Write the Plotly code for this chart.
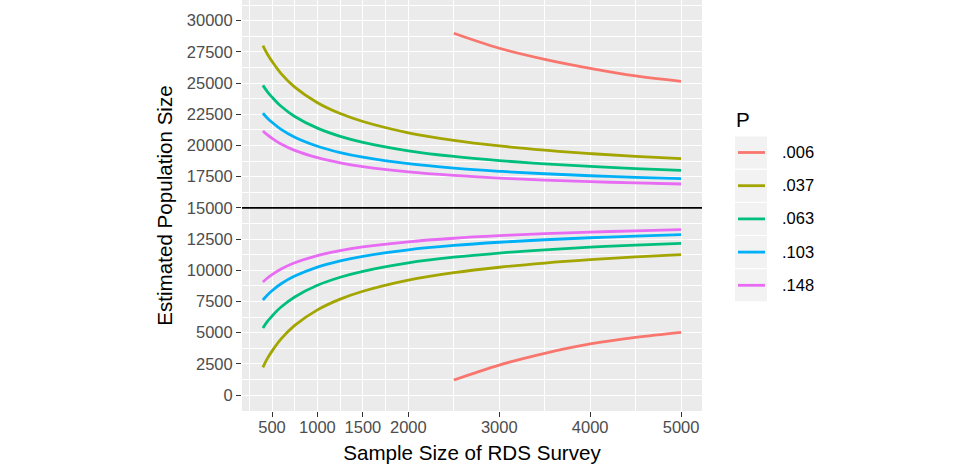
import plotly.graph_objects as go

# ---- data ----
sample_n = [400, 450, 500, 600, 750, 1000, 1250, 1500, 2000, 2500, 3000, 3500, 4000, 4500, 5000]
red_n = [2500, 3000, 3500, 4000, 4500, 5000]

p006_upper = [28990, 27790, 26900, 26180, 25570, 25140]
p006_lower = [1200, 2400, 3340, 4090, 4620, 5020]

p037_upper = [28000, 27313, 26739, 25757, 24676, 23428, 22557, 21920, 21015, 20410, 19966, 19623, 19348, 19126, 18940]
p037_lower = [2221, 2933, 3519, 4501, 5585, 6825, 7685, 8315, 9208, 9801, 10238, 10576, 10843, 11064, 11245]

p063_upper = [24815, 24302, 23875, 23138, 22325, 21388, 20732, 20252, 19571, 19117, 18784, 18523, 18318, 18148, 18010]
p063_lower = [5372, 5893, 6320, 7049, 7858, 8791, 9440, 9916, 10594, 11048, 11379, 11639, 11845, 12016, 12153]

p103_upper = [22579, 22185, 21856, 21287, 20660, 19939, 19432, 19062, 18537, 18186, 17930, 17732, 17574, 17447, 17340]
p103_lower = [7616, 8019, 8356, 8917, 9533, 10255, 10753, 11118, 11638, 11987, 12244, 12443, 12604, 12735, 12849]

p148_upper = [21162, 20843, 20576, 20115, 19606, 19020, 18609, 18308, 17881, 17597, 17389, 17228, 17100, 16997, 16911]
p148_lower = [9059, 9379, 9647, 10100, 10597, 11174, 11573, 11865, 12281, 12565, 12770, 12929, 13056, 13160, 13251]

true_size = 15000

legend_title = "P"
p_labels = [".006", ".037", ".063", ".103", ".148"]
x_ticks = [500, 1000, 1500, 2000, 3000, 4000, 5000]
x_minor = [250, 750, 1250, 1750, 2500, 3500, 4500]
y_ticks = [0, 2500, 5000, 7500, 10000, 12500, 15000, 17500, 20000, 22500, 25000, 27500, 30000]
y_minor = [1250, 3750, 6250, 8750, 11250, 13750, 16250, 18750, 21250, 23750, 26250, 28750, 31250]

colors = ["#F8766D", "#A3A500", "#00BF7D", "#00B0F6", "#E76BF3"]

series = [
    (red_n, p006_upper, p006_lower),
    (sample_n, p037_upper, p037_lower),
    (sample_n, p063_upper, p063_lower),
    (sample_n, p103_upper, p103_lower),
    (sample_n, p148_upper, p148_lower),
]

FONT = "Liberation Sans, Arial, Helvetica, sans-serif"
LINE_W = 2.8

fig = go.Figure()
for i, (xs, up, lo) in enumerate(series):
    for k, ys in enumerate((up, lo)):
        fig.add_trace(go.Scatter(
            x=xs, y=ys, mode="lines",
            line=dict(color=colors[i], width=LINE_W, shape="spline", smoothing=1.0),
            name=p_labels[i], legendgroup=p_labels[i],
            showlegend=False,
        ))

# plot-area geometry in pixels
W, H = 975, 476
L, R, T, B = 242, 702, 0, 411
pw, ph = R - L, B - T

def px_x(x):
    return (x - L) / pw

def px_y(y):
    return 1 - (y - T) / ph

shapes = [dict(type="line", xref="paper", yref="y", x0=0, x1=1,
               y0=true_size, y1=true_size, line=dict(color="black", width=1.6))]
annotations = [dict(text=legend_title, xref="paper", yref="paper",
                    x=px_x(734), y=px_y(120), xanchor="left", yanchor="middle",
                    showarrow=False, font=dict(size=20.6, color="black"))]

# ggplot-style legend: grey key boxes, line samples, labels
key_top0, key_step, key_h = 136.5, 33.2, 32
for i, lab in enumerate(p_labels):
    t = key_top0 + i * key_step
    cy = t + key_h / 2
    shapes.append(dict(type="rect", xref="paper", yref="paper",
                       x0=px_x(735), x1=px_x(767), y0=px_y(t + key_h), y1=px_y(t),
                       fillcolor="#F2F2F2", line=dict(width=0)))
    shapes.append(dict(type="line", xref="paper", yref="paper",
                       x0=px_x(738), x1=px_x(765), y0=px_y(cy), y1=px_y(cy),
                       line=dict(color=colors[i], width=LINE_W)))
    annotations.append(dict(text=lab, xref="paper", yref="paper",
                            x=px_x(780), y=px_y(cy - 0.5), xanchor="left", yanchor="middle",
                            showarrow=False, font=dict(size=16.5, color="black")))

fig.update_layout(
    width=W, height=H,
    margin=dict(l=L, r=W - R, t=T, b=H - B, pad=0),
    paper_bgcolor="white", plot_bgcolor="#EBEBEB",
    font=dict(family=FONT, color="black"),
    showlegend=False,
    shapes=shapes,
    annotations=annotations,
    xaxis=dict(
        range=[170, 5230], tickmode="array", tickvals=x_ticks,
        ticktext=[str(v) for v in x_ticks],
        showgrid=True, gridcolor="white", gridwidth=1.4,
        minor=dict(tickmode="array", tickvals=x_minor, showgrid=True,
                   gridcolor="white", gridwidth=0.7, ticks=""),
        ticks="outside", ticklen=5, tickwidth=1.1, tickcolor="#333333",
        tickfont=dict(size=16.5, color="#4D4D4D"), ticklabelstandoff=-4,
        zeroline=False, showline=False,
        title=dict(text="Sample Size of RDS Survey", font=dict(size=20.6, color="black"), standoff=10),
    ),
    yaxis=dict(
        range=[-1282, 31658], tickmode="array", tickvals=y_ticks,
        ticktext=[str(v) for v in y_ticks],
        showgrid=True, gridcolor="white", gridwidth=1.4,
        minor=dict(tickmode="array", tickvals=y_minor, showgrid=True,
                   gridcolor="white", gridwidth=0.7, ticks=""),
        ticks="outside", ticklen=5, tickwidth=1.1, tickcolor="#333333",
        tickfont=dict(size=16.5, color="#4D4D4D"),
        zeroline=False, showline=False,
        title=dict(text="Estimated Population Size", font=dict(size=20.6, color="black"), standoff=8),
    ),
)

fig.write_html("out.html")
